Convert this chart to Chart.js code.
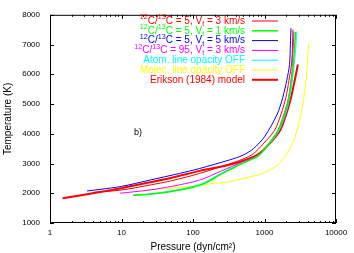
<!DOCTYPE html>
<html>
<head>
<meta charset="utf-8">
<script src="https://cdn.jsdelivr.net/npm/chart.js@4.4.0/dist/chart.umd.min.js"></script>
<style>
  html, body { margin: 0; padding: 0; background: #fff; }
  #wrap { width: 354px; height: 253px; }
</style>
</head>
<body>
<div id="wrap"><canvas id="tpChart" width="354" height="253"></canvas></div>
<script>
// tick labels
const pressureTicks = [1, 10, 100, 1000, 10000];
const tempTicks = [1000, 2000, 3000, 4000, 5000, 6000, 7000, 8000];

// legend texts (^{} = superscript, _{} = subscript)
const seriesLabels = [
  '^{12}C/^{13}C = 5, V_{t} = 3 km/s',
  '^{12}C/^{13}C = 5, V_{t} = 1 km/s',
  '^{12}C/^{13}C = 5, V_{t} = 5 km/s',
  '^{12}C/^{13}C = 95, V_{t} = 3 km/s',
  'Atom. line opacity OFF',
  'Molec. line opacity OFF',
  'Erikson (1984) model'
];
const seriesColors = ['#ff0000', '#00ff00', '#0000ff', '#ff00ff', '#00ffff', '#ffff00', '#ff0000'];
const seriesWidths = [1, 1.5, 1, 1, 1, 1, 2];

// pressure (dyn/cm2) and temperature (K)
const vt3P = [4, 10, 25, 50, 124, 324, 500, 700, 950, 1380, 1700, 1990, 2200, 2400, 2500];
const vt3T = [2030, 2110, 2277, 2420, 2667, 2990, 3150, 3330, 3650, 4110, 4650, 5220, 5800, 6400, 7500];

const vt1P = [14.5, 25, 50, 100, 150, 250, 400, 617, 810, 1100, 1550, 2000, 2200, 2450, 2600, 2720];
const vt1T = [1930, 1967, 2060, 2200, 2350, 2650, 2900, 3110, 3250, 3600, 4110, 4800, 5220, 6000, 6700, 7420];

const vt5P = [3.3, 5, 10, 25, 65, 124, 324, 500, 700, 1000, 1500, 1800, 2050, 2240, 2300, 2350];
const vt5T = [2077, 2130, 2230, 2443, 2667, 2833, 3120, 3280, 3500, 3900, 4650, 5220, 5800, 6330, 7000, 7550];

const c95P = [9.5, 25, 50, 124, 250, 500, 800, 1100, 1530, 1950, 2170, 2400, 2500, 2580];
const c95T = [2000, 2110, 2230, 2443, 2750, 3060, 3260, 3620, 4110, 4800, 5220, 6000, 6700, 7440];

const atomOffP = [15, 25, 50, 100, 150, 250, 400, 617, 820, 1120, 1600, 2050, 2250, 2520, 2700, 2840];
const atomOffT = [1940, 1980, 2080, 2230, 2380, 2680, 2920, 3120, 3260, 3600, 4110, 4800, 5220, 6000, 6700, 7440];

const molOffP = [20, 25, 50, 111, 170, 324, 617, 944, 1620, 2470, 3240, 3800, 4140];
const molOffT = [2080, 2120, 2180, 2253, 2310, 2390, 2550, 2670, 3000, 3670, 4670, 5780, 7020];

const eriksonP = [1.5, 5, 10, 25, 50, 124, 324, 617, 810, 1110, 1650, 2100, 2350, 2700, 2930];
const eriksonT = [1833, 2040, 2170, 2367, 2520, 2753, 2960, 3170, 3300, 3600, 4110, 4800, 5220, 5900, 6330];

const seriesP = [vt3P, vt1P, vt5P, c95P, atomOffP, molOffP, eriksonP];
const seriesT = [vt3T, vt1T, vt5T, c95T, atomOffT, molOffT, eriksonT];

const FONT = '"Liberation Sans", Arial, sans-serif';

// split text into normal / superscript / subscript parts
function richParts(text) {
  const parts = [];
  const re = /([\^_])\{([^}]*)\}/g;
  let last = 0, m;
  while ((m = re.exec(text)) !== null) {
    if (m.index > last) parts.push({ t: text.slice(last, m.index), k: 'n' });
    parts.push({ t: m[2], k: m[1] === '^' ? 'sup' : 'sub' });
    last = re.lastIndex;
  }
  if (last < text.length) parts.push({ t: text.slice(last), k: 'n' });
  return parts;
}

// right aligned at xRight
function drawRich(ctx, text, xRight, y, size) {
  const parts = richParts(text);
  const small = size * 0.72;
  let w = 0;
  parts.forEach(p => {
    ctx.font = (p.k === 'n' ? size : small) + 'px ' + FONT;
    p.w = ctx.measureText(p.t).width;
    w += p.w;
  });
  let x = xRight - w;
  ctx.textAlign = 'left';
  ctx.textBaseline = 'middle';
  parts.forEach(p => {
    ctx.font = (p.k === 'n' ? size : small) + 'px ' + FONT;
    let dy = 0;
    if (p.k === 'sup') dy = -size * 0.35;
    if (p.k === 'sub') dy = size * 0.3;
    ctx.fillText(p.t, x, y + dy);
    x += p.w;
  });
}

// box, inward ticks, legend and the "b)" mark
const framePlugin = {
  id: 'framePlugin',
  afterDatasetsDraw(chart) {
    const { ctx, chartArea: a, scales: { x, y } } = chart;
    ctx.save();
    ctx.strokeStyle = '#000';
    ctx.lineWidth = 1;
    ctx.strokeRect(a.left + 0.5, a.top + 0.5, a.right - a.left - 1, a.bottom - a.top - 1);

    ctx.beginPath();
    pressureTicks.forEach(v => {
      const px = Math.round(x.getPixelForValue(v)) + 0.5;
      ctx.moveTo(px, a.bottom); ctx.lineTo(px, a.bottom - 4);
      ctx.moveTo(px, a.top); ctx.lineTo(px, a.top + 4);
    });
    for (let i = 0; i < pressureTicks.length - 1; i++) {
      for (let m = 2; m <= 9; m++) {
        const px = Math.round(x.getPixelForValue(pressureTicks[i] * m)) + 0.5;
        ctx.moveTo(px, a.bottom); ctx.lineTo(px, a.bottom - 2);
        ctx.moveTo(px, a.top); ctx.lineTo(px, a.top + 2);
      }
    }
    tempTicks.forEach(v => {
      const py = Math.round(y.getPixelForValue(v)) + 0.5;
      ctx.moveTo(a.left, py); ctx.lineTo(a.left + 4, py);
      ctx.moveTo(a.right, py); ctx.lineTo(a.right - 4, py);
    });
    ctx.stroke();

    // legend
    chart.data.datasets.forEach((ds, i) => {
      const ly = 21 + i * 9.8;
      ctx.fillStyle = ds.borderColor;
      drawRich(ctx, ds.label, 245, ly, 10);
      ctx.strokeStyle = ds.borderColor;
      ctx.lineWidth = ds.borderWidth;
      ctx.beginPath();
      ctx.moveTo(252, ly);
      ctx.lineTo(278, ly);
      ctx.stroke();
    });

    ctx.fillStyle = '#000';
    ctx.font = '9px ' + FONT;
    ctx.textAlign = 'center';
    ctx.textBaseline = 'middle';
    ctx.fillText('b)', 138, 133);
    ctx.restore();
  }
};

const datasets = seriesLabels.map((label, i) => ({
  label: label,
  data: seriesP[i].map((p, j) => ({ x: p, y: seriesT[i][j] })),
  borderColor: seriesColors[i],
  backgroundColor: seriesColors[i],
  borderWidth: seriesWidths[i],
  showLine: true,
  pointRadius: 0,
  tension: 0.3,
  fill: false
}));

new Chart(document.getElementById('tpChart'), {
  type: 'scatter',
  data: { datasets: datasets },
  options: {
    responsive: false,
    animation: false,
    layout: { padding: { top: 12, right: 18, left: 0, bottom: 0 } },
    plugins: { legend: { display: false }, tooltip: { enabled: false } },
    scales: {
      x: {
        type: 'logarithmic',
        min: 1,
        max: 10000,
        grid: { display: false, drawTicks: false },
        border: { display: false },
        afterBuildTicks: s => { s.ticks = pressureTicks.map(v => ({ value: v })); },
        afterFit: s => { s.height = 30; },
        ticks: {
          autoSkip: false,
          maxRotation: 0,
          padding: 5,
          color: '#000',
          font: { family: FONT, size: 8 },
          callback: v => String(v)
        },
        title: {
          display: true,
          text: 'Pressure (dyn/cm²)',
          color: '#000',
          font: { family: FONT, size: 10 },
          padding: { top: 0, bottom: 0 }
        }
      },
      y: {
        min: 1000,
        max: 8000,
        grid: { display: false, drawTicks: false },
        border: { display: false },
        afterBuildTicks: s => { s.ticks = tempTicks.map(v => ({ value: v })); },
        afterFit: s => { s.width = 50; },
        ticks: {
          padding: 10,
          color: '#000',
          font: { family: FONT, size: 8 },
          callback: v => String(v)
        },
        title: {
          display: true,
          text: 'Temperature (K)',
          color: '#000',
          font: { family: FONT, size: 10 },
          padding: { top: 2, bottom: 0 }
        }
      }
    }
  },
  plugins: [framePlugin]
});
</script>
</body>
</html>
